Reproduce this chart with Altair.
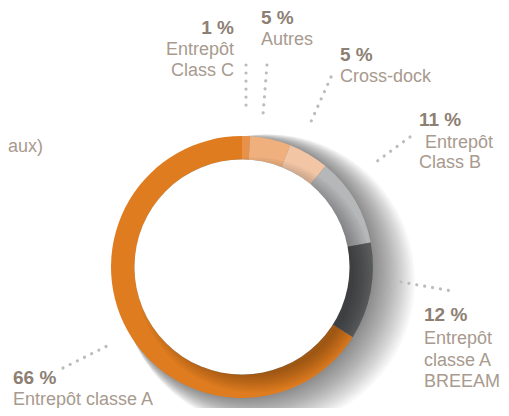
import altair as alt
import pandas as pd

# --- data ---
categories = ["Entrepôt Class C", "Autres", "Cross-dock", "Entrepôt Class B",
              "Entrepôt classe A BREEAM", "Entrepôt classe A"]
shares = [1, 5, 5, 11, 12, 66]
colors = ["#e8914a", "#efb07e", "#f2c6a5", "#b6b7b9", "#5a5b5d", "#e07c20"]

pct_labels = ["1 %", "5 %", "5 %", "11 %", "12 %", "66 %"]
name_lines = [["Entrepôt", "Class C"], ["Autres"], ["Cross-dock"],
              ["Entrepôt", "Class B"], ["Entrepôt", "classe A", "BREEAM"],
              ["Entrepôt classe A"]]

# --- layout (page pixel coordinates) ---
CX, CY = 242, 267
R_OUT, R_IN = 131, 107.5
pct_pos = [(234, 34, "right"), (261, 24, "left"), (340, 61, "left"),
           (419, 126, "left"), (424, 321, "left"), (13, 384, "left")]
name_pos = [[(234, 55), (234, 76)], [(261, 45)], [(340, 82)],
            [(425, 148), (419, 168)], [(424, 344), (424, 366), (424, 387)],
            [(13, 405)]]
leaders = [(246, 65, 246, 113), (267, 65, 263, 115), (331, 77, 309, 126),
           (410, 137, 372, 165), (401, 282, 452, 291), (63, 368, 107, 346)]

xs = alt.Scale(domain=[8, 501])
ys = alt.Scale(domain=[408, 8])

pie = pd.DataFrame({"cat": categories, "v": shares, "o": list(range(6))})


def disc(r, cx, cy, color, op):
    return alt.Chart(pd.DataFrame({"r": [r]})).mark_arc(
        theta=0, theta2=6.2832, color=color, opacity=op).encode(
        radius=alt.Radius("r:Q", scale=None, stack=None),
        x=alt.value(cx - 8), y=alt.value(cy - 8))

# soft directional drop shadow (towards the right)
outer_shadow = [disc(R_OUT - 2 + 0.9 * k, CX + 1.3 * k, CY + 0.7 * k, "#000000", 0.028)
                for k in range(1, 21)]

ring = alt.Chart(pie).mark_arc(outerRadius=R_OUT, innerRadius=R_IN).encode(
    theta=alt.Theta("v:Q", stack=True),
    order=alt.Order("o:Q"),
    color=alt.Color("cat:N", scale=alt.Scale(domain=categories, range=colors), legend=None),
    x=alt.value(CX - 8), y=alt.value(CY - 8))

inner_shadow = [disc(100 + 2.5 * k, CX + 12, CY + 8, "#000000", 0.04) for k in range(8)]
hole = disc(R_IN, CX, CY, "white", 1)

lead_df = pd.DataFrame(leaders, columns=["x", "y", "x2", "y2"])
lead = alt.Chart(lead_df).mark_rule(
    color="#b9beb8", strokeWidth=3.2, strokeCap="round", strokeDash=[0.01, 8]).encode(
    x=alt.X("x:Q", scale=xs, axis=None), y=alt.Y("y:Q", scale=ys, axis=None),
    x2="x2:Q", y2="y2:Q")

pct_df = pd.DataFrame({"t": pct_labels, "x": [p[0] for p in pct_pos],
                       "y": [p[1] for p in pct_pos], "a": [p[2] for p in pct_pos]})
rows = []
for i, lines in enumerate(name_lines):
    for line, (px, py) in zip(lines, name_pos[i]):
        rows.append({"t": line, "x": px, "y": py, "a": pct_pos[i][2]})
name_df = pd.DataFrame(rows)


def texts(df, align, **kw):
    return alt.Chart(df[df["a"] == align]).mark_text(
        align=align, baseline="alphabetic", font="Liberation Sans", **kw).encode(
        x=alt.X("x:Q", scale=xs, axis=None), y=alt.Y("y:Q", scale=ys, axis=None),
        text="t:N")

pct_layers = [texts(pct_df, a, fontSize=19, fontWeight="bold", color="#8d7f73")
              for a in ["left", "right"]]
name_layers = [texts(name_df, a, fontSize=18, color="#a89a8e") for a in ["left", "right"]]

cut_df = pd.DataFrame({"t": ["(bureaux)"], "x": [43], "y": [152], "a": ["right"]})
cut = texts(cut_df, "right", fontSize=18, color="#a89a8e")

chart = alt.layer(*outer_shadow, ring, *inner_shadow, hole, lead,
                  *pct_layers, *name_layers, cut).properties(
    width=493, height=400, autosize=alt.AutoSizeParams(type="none"), padding=0
).configure_view(stroke=None)

chart.save("out.html", embed_options={"renderer": "svg", "actions": False})
